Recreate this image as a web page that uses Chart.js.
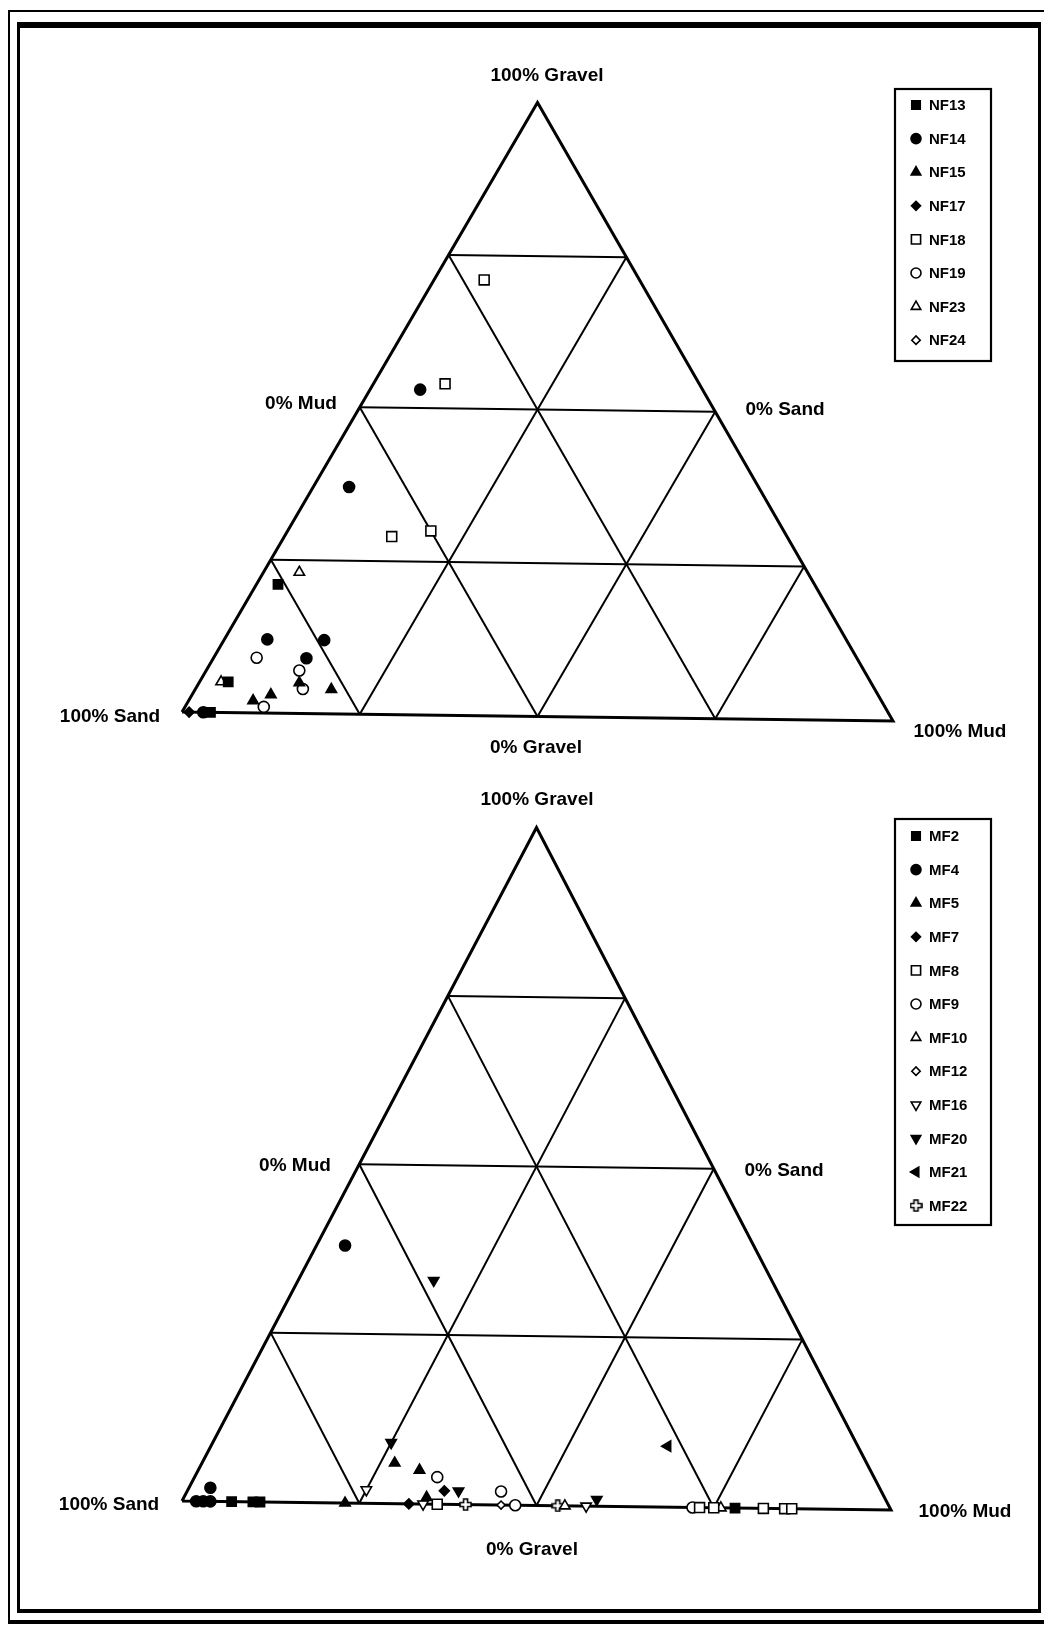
<!DOCTYPE html>
<html>
<head>
<meta charset="utf-8">
<title>Sediment ternary diagrams</title>
<script src="https://cdn.jsdelivr.net/npm/chart.js@4.4.0/dist/chart.umd.min.js"></script>
<style>
  html, body { margin: 0; padding: 0; background: #fff; }
  body { width: 1044px; height: 1631px; position: relative; overflow: hidden;
         font-family: "Liberation Sans", Arial, Helvetica, sans-serif; }
  .frame-outer { position: absolute; left: 8px; top: 10px; width: 1060px; height: 1614px;
                 border: solid #000; border-width: 2px 0 4px 2px; box-sizing: border-box; }
  .frame-inner { position: absolute; left: 17px; top: 22px; width: 1024px; height: 1591px;
                 border: solid #000; border-width: 6px 3px 4px 3px; box-sizing: border-box; }
  canvas { position: absolute; left: 0; }
  #topChart { top: 0; }
  #bottomChart { top: 790px; }
  .lbl { position: absolute; font-weight: bold; font-size: 19px; color: #000;
         transform: translate(-50%, -50%); white-space: nowrap; }
</style>
</head>
<body>
<div class="frame-outer"></div>
<div class="frame-inner"></div>

<canvas id="topChart" width="1044" height="790"></canvas>
<canvas id="bottomChart" width="1044" height="841"></canvas>

<!-- corner / side labels, upper diagram -->
<div class="lbl" style="left:547px;top:75px">100% Gravel</div>
<div class="lbl" style="left:301px;top:403px">0% Mud</div>
<div class="lbl" style="left:785px;top:409px">0% Sand</div>
<div class="lbl" style="left:110px;top:716px">100% Sand</div>
<div class="lbl" style="left:960px;top:731px">100% Mud</div>
<div class="lbl" style="left:536px;top:747px">0% Gravel</div>

<!-- corner / side labels, lower diagram -->
<div class="lbl" style="left:537px;top:799px">100% Gravel</div>
<div class="lbl" style="left:295px;top:1165px">0% Mud</div>
<div class="lbl" style="left:784px;top:1170px">0% Sand</div>
<div class="lbl" style="left:109px;top:1504px">100% Sand</div>
<div class="lbl" style="left:965px;top:1511px">100% Mud</div>
<div class="lbl" style="left:532px;top:1549px">0% Gravel</div>

<script>
// Each sample is [sand %, gravel %, mud %]

// upper diagram
const nf13 = [[76, 21, 3], [91, 5, 4], [96, 0, 4]];
const nf14 = [[82, 12, 6], [74, 12, 14], [78, 9, 13], [40, 53, 7], [58, 37, 5], [97, 0, 3]];
const nf15 = [[89, 2, 9], [86, 3, 11], [81, 5, 14], [77, 4, 19]];
const nf17 = [[99, 0, 1]];
const nf18 = [[22, 71, 7], [36, 54, 10], [56, 29, 15], [50, 30, 20]];
const nf19 = [[85, 9, 6], [80, 7, 13], [81, 4, 15], [88, 1, 11]];
const nf23 = [[72, 23, 5], [92, 5, 3]];
const nf24 = [[30, 0, 70], [10, 0, 90]];

// lower diagram
const mf2 = [[93, 0, 7], [90, 0, 10], [89, 0, 11], [22, 0, 78]];
const mf4 = [[95, 2, 3], [98, 0, 2], [97, 0, 3], [96, 0, 4], [58, 38, 4]];
const mf5 = [[77, 0, 23], [67, 6, 27], [64, 5, 31], [65, 1, 34]];
const mf7 = [[68, 0, 32], [62, 2, 36]];
const mf8 = [[64, 0, 36], [27, 0, 73], [25, 0, 75], [18, 0, 82], [15, 0, 85], [14, 0, 86]];
const mf9 = [[62, 4, 34], [54, 2, 44], [53, 0, 47], [28, 0, 72]];
const mf10 = [[46, 0, 54], [24, 0, 76]];
const mf12 = [[55, 0, 45], [37, 0, 63], [31, 0, 69], [30, 0, 70]];
const mf16 = [[73, 2, 25], [66, 0, 34], [43, 0, 57]];
const mf20 = [[48, 33, 19], [66, 9, 25], [60, 2, 38], [41, 1, 58]];
const mf21 = [[27, 9, 64]];
const mf22 = [[60, 0, 40], [47, 0, 53]];

const topLabels = ['NF13', 'NF14', 'NF15', 'NF17', 'NF18', 'NF19', 'NF23', 'NF24'];
const topValues = [nf13, nf14, nf15, nf17, nf18, nf19, nf23, nf24];
const bottomLabels = ['MF2', 'MF4', 'MF5', 'MF7', 'MF8', 'MF9', 'MF10', 'MF12', 'MF16', 'MF20', 'MF21', 'MF22'];
const bottomValues = [mf2, mf4, mf5, mf7, mf8, mf9, mf10, mf12, mf16, mf20, mf21, mf22];

// grid every 25 %
const gridSteps = [0.25, 0.5, 0.75];

// open "plus" marker used for MF22
function makeOpenCross() {
    const c = document.createElement('canvas');
    c.width = 13; c.height = 13;
    const g = c.getContext('2d');
    const a = 4.5, b = 8.5;
    g.beginPath();
    g.moveTo(a, 1); g.lineTo(b, 1); g.lineTo(b, a); g.lineTo(12, a); g.lineTo(12, b);
    g.lineTo(b, b); g.lineTo(b, 12); g.lineTo(a, 12); g.lineTo(a, b); g.lineTo(1, b);
    g.lineTo(1, a); g.lineTo(a, a); g.closePath();
    g.fillStyle = '#fff'; g.fill();
    g.strokeStyle = '#000'; g.lineWidth = 1.6; g.stroke();
    return c;
}
const openCross = makeOpenCross();

// marker look for each series (same order as the label arrays)
const solidSquare = { pointStyle: 'rect', radius: 6.5, legendRadius: 6, fill: true };
const solidCircle = { pointStyle: 'circle', radius: 5.5, legendRadius: 5, fill: true };
const solidTriangle = { pointStyle: 'triangle', radius: 6, legendRadius: 5.5, fill: true };
const solidDiamond = { pointStyle: 'rectRot', radius: 5, legendRadius: 4.5, fill: true };
const openSquare = { pointStyle: 'rect', radius: 7, legendRadius: 6.5, fill: false };
const openCircle = { pointStyle: 'circle', radius: 5.5, legendRadius: 5, fill: false };
const openTriangle = { pointStyle: 'triangle', radius: 6, legendRadius: 5.5, fill: false };
const openDiamond = { pointStyle: 'rectRot', radius: 4, legendRadius: 4.2, fill: false };
const openDown = { pointStyle: 'triangle', rotation: 180, radius: 6, legendRadius: 5.5, fill: false };
const solidDown = { pointStyle: 'triangle', rotation: 180, radius: 6, legendRadius: 5.5, fill: true };
const solidLeft = { pointStyle: 'triangle', rotation: 270, radius: 6, legendRadius: 5.5, fill: true };
const openPlus = { pointStyle: openCross, radius: 6.5, legendRadius: 6.5, fill: false };

const topStyles = [solidSquare, solidCircle, solidTriangle, solidDiamond, openSquare, openCircle, openTriangle, openDiamond];
const bottomStyles = [solidSquare, solidCircle, solidTriangle, solidDiamond, openSquare, openCircle, openTriangle,
                      openDiamond, openDown, solidDown, solidLeft, openPlus];

// ternary -> plot coordinates (x 0..1 across the base, y 0..1 up to the gravel apex)
// skew tilts the base a little, like the scanned original
function toXY(p, skew) {
    const total = p[0] + p[1] + p[2];
    const g = p[1] / total;
    const m = p[2] / total;
    const x = m + g / 2;
    return { x: x, y: g - skew * x };
}

function lineDataset(points, skew, width) {
    return {
        data: points.map(p => toXY(p, skew)),
        showLine: true,
        borderColor: '#000',
        borderWidth: width,
        borderJoinStyle: 'miter',
        pointRadius: 0,
        clip: false,
        order: 10
    };
}

function buildFrame(skew) {
    const sets = [];
    // outline
    sets.push(lineDataset([[1, 0, 0], [0, 0, 1], [0, 1, 0], [1, 0, 0]], skew, 3));
    gridSteps.forEach(k => {
        sets.push(lineDataset([[1 - k, k, 0], [0, k, 1 - k]], skew, 2));   // equal gravel
        sets.push(lineDataset([[k, 1 - k, 0], [k, 0, 1 - k]], skew, 2));   // equal sand
        sets.push(lineDataset([[1 - k, 0, k], [0, 1 - k, k]], skew, 2));   // equal mud
    });
    return sets;
}

function buildSeries(labels, values, styles, skew) {
    return labels.map((label, i) => {
        const s = styles[i];
        return {
            label: label,
            data: values[i].map(p => toXY(p, skew)),
            showLine: false,
            pointStyle: s.pointStyle,
            pointRadius: s.radius,
            pointRotation: s.rotation || 0,
            pointBackgroundColor: s.fill ? '#000' : '#fff',
            pointBorderColor: '#000',
            pointBorderWidth: 1.6,
            clip: false,
            order: 1
        };
    });
}

// boxed legend drawn at a fixed place on the canvas
function makeLegendPlugin(box, labels, styles) {
    return {
        id: 'boxLegend',
        afterDraw(chart) {
            const ctx = chart.ctx;
            ctx.save();
            ctx.strokeStyle = '#000';
            ctx.lineWidth = 2.2;
            ctx.strokeRect(box.left, box.top, box.width, box.height);
            ctx.font = 'bold 15px "Liberation Sans", Arial, sans-serif';
            ctx.textBaseline = 'middle';
            labels.forEach((label, i) => {
                const s = styles[i];
                const y = box.firstY + i * box.step;
                ctx.fillStyle = s.fill ? '#000' : '#fff';
                ctx.strokeStyle = '#000';
                ctx.lineWidth = 1.6;
                Chart.helpers.drawPoint(ctx, {
                    pointStyle: s.pointStyle,
                    radius: s.legendRadius,
                    rotation: s.rotation || 0,
                    borderWidth: 1.6
                }, box.markerX, y);
                ctx.fillStyle = '#000';
                ctx.fillText(label, box.textX, y + 1);
            });
            ctx.restore();
        }
    };
}

function drawTernary(canvasId, labels, values, styles, skew, padding, box) {
    const datasets = buildSeries(labels, values, styles, skew).concat(buildFrame(skew));
    return new Chart(document.getElementById(canvasId), {
        type: 'scatter',
        data: { datasets: datasets },
        options: {
            responsive: false,
            animation: false,
            devicePixelRatio: 1,
            events: [],
            layout: { padding: padding },
            scales: {
                x: { type: 'linear', min: 0, max: 1, display: false },
                y: { type: 'linear', min: 0, max: 1, display: false }
            },
            plugins: { legend: { display: false }, tooltip: { enabled: false } }
        },
        plugins: [makeLegendPlugin(box, labels, styles)]
    });
}

document.addEventListener('DOMContentLoaded', () => {
    drawTernary('topChart', topLabels, topValues, topStyles, 0.0147,
        { left: 182, right: 151, top: 98, bottom: 78 },
        { left: 895, top: 89, width: 96, height: 272, firstY: 105, step: 33.6, markerX: 916, textX: 929 });

    drawTernary('bottomChart', bottomLabels, bottomValues, bottomStyles, 0.0133,
        { left: 182, right: 153, top: 33, bottom: 130 },
        { left: 895, top: 29, width: 96, height: 406, firstY: 46, step: 33.6, markerX: 916, textX: 929 });
});
</script>
</body>
</html>
